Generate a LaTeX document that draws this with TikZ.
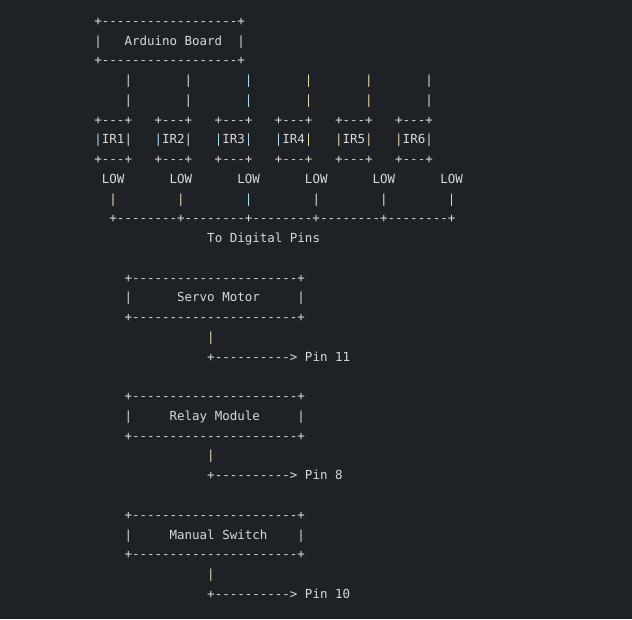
\documentclass[tikz,border=0pt]{standalone}
\usepackage{fontspec}
\newfontfamily\mono[Ligatures=ResetAll]{DejaVu Sans Mono}
\definecolor{bg}{HTML}{1E2126}
\definecolor{txt}{HTML}{D8D8D8}
\definecolor{yel}{HTML}{E6DCA4}
\definecolor{cya}{HTML}{A6E0EE}
\newcommand{\Yp}{\textcolor{yel}{|}}
\newcommand{\Cp}{\textcolor{cya}{|}}
\tikzset{ln/.style={anchor=base west,inner sep=0pt,text=txt,font=\mono\fontsize{12.49pt}{14pt}\selectfont}}
\begin{document}
\begin{tikzpicture}[x=1pt,y=1pt]
\fill[bg] (0,0) rectangle (632,619);
\useasboundingbox (0,0) rectangle (632,619);
\def\Lx{94.24}
\newcommand{\Lnode}[2]{\node[ln] (l#1) at (\Lx,{619-(21+19.75*#1)-4.5}) {#2};}
\Lnode{0}{+------------------+}
\Lnode{1}{|~~~Arduino~Board~~|}
\Lnode{2}{+------------------+}
\Lnode{3}{~~~~|~~~~~~~|~~~~~~~\Cp~~~~~~~\Yp~~~~~~~\Yp~~~~~~~|}
\Lnode{4}{~~~~|~~~~~~~|~~~~~~~\Cp~~~~~~~\Yp~~~~~~~\Yp~~~~~~~|}
\Lnode{5}{+---+~~~+---+~~~+---+~~~+---+~~~+---+~~~+---+}
\Lnode{6}{\Cp IR1|~~~\Cp IR2|~~~\Cp IR3\Cp~~~\Cp IR4\Yp~~~\Yp IR5\Yp~~~\Yp IR6|}
\Lnode{7}{+---+~~~+---+~~~+---+~~~+---+~~~+---+~~~+---+}
\Lnode{8}{~LOW~~~~~~LOW~~~~~~LOW~~~~~~LOW~~~~~~LOW~~~~~~LOW}
\Lnode{9}{~~\Yp~~~~~~~~\Yp~~~~~~~~\Cp~~~~~~~~|~~~~~~~~\Yp~~~~~~~~\Cp}
\Lnode{10}{~~+--------+--------+--------+--------+--------+}
\Lnode{11}{~~~~~~~~~~~~~~~To~Digital~Pins}
\Lnode{13}{~~~~+----------------------+}
\Lnode{14}{~~~~|~~~~~~Servo~Motor~~~~~|}
\Lnode{15}{~~~~+----------------------+}
\Lnode{16}{~~~~~~~~~~~~~~~\Yp}
\Lnode{17}{~~~~~~~~~~~~~~~+---------->~Pin~11}
\Lnode{19}{~~~~+----------------------+}
\Lnode{20}{~~~~|~~~~~Relay~Module~~~~~|}
\Lnode{21}{~~~~+----------------------+}
\Lnode{22}{~~~~~~~~~~~~~~~\Yp}
\Lnode{23}{~~~~~~~~~~~~~~~+---------->~Pin~8}
\Lnode{25}{~~~~+----------------------+}
\Lnode{26}{~~~~|~~~~~Manual~Switch~~~~|}
\Lnode{27}{~~~~+----------------------+}
\Lnode{28}{~~~~~~~~~~~~~~~\Yp}
\Lnode{29}{~~~~~~~~~~~~~~~+---------->~Pin~10}
\end{tikzpicture}
\end{document}
